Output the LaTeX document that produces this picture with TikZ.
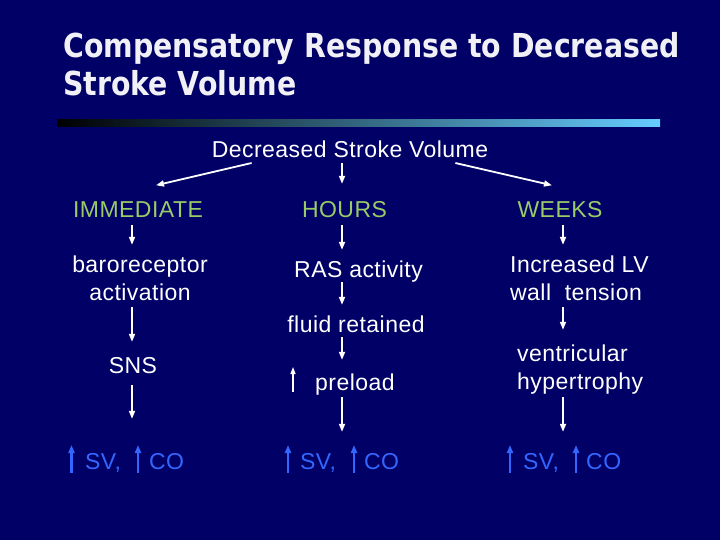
\documentclass[tikz,border=0pt]{standalone}
\usepackage{fontspec}
\setmainfont{Liberation Sans}[LetterSpace=2]
\newfontfamily\titlefont{DejaVu Sans}[FakeStretch=0.86]
\usetikzlibrary{arrows.meta}
\definecolor{bg}{RGB}{0,0,102}
\definecolor{grn}{RGB}{153,204,102}
\definecolor{blu}{RGB}{51,102,255}
\definecolor{barc}{RGB}{102,204,255}
\definecolor{ttl}{RGB}{240,240,246}
\begin{document}
\begin{tikzpicture}[x=1pt,y=-1pt,
  txt/.style={inner sep=0pt, text=white, font=\fontsize{23}{28}\selectfont, text height=16.5pt, text depth=4.8pt},
  lbl/.style={txt, text=grn},
  svtxt/.style={txt, text=blu},
  ttltxt/.style={inner sep=0pt, text=ttl, font=\titlefont\bfseries\fontsize{33}{40}\selectfont},
  arr/.style={draw=white, line width=1.8pt, -{Triangle[length=8pt,width=6pt]}},
  smallarr/.style={draw=white, line width=1.4pt, -{Triangle[length=7pt,width=5pt]}},
  uarr/.style={draw=blu, line width=2.2pt, -{Triangle[length=8pt,width=6pt]}}
]
\fill[bg] (0,0) rectangle (720,540);
\useasboundingbox (0,0) rectangle (720,540);

% title
\node[ttltxt, anchor=base west] (t1) at (63,58) {Compensatory Response to Decreased};
\node[ttltxt, anchor=base west] (t2) at (63,96) {Stroke Volume};
\shade[left color=black, right color=barc] (57,120) rectangle (660,127);

% column coordinates
\coordinate (cL) at (132,0);
\coordinate (cM) at (342,0);
\coordinate (cR) at (563,0);

% nodes
\node[txt, anchor=base] (dsv) at (350,158) {Decreased Stroke Volume};
\node[lbl, anchor=base] (imm) at (138,218) {IMMEDIATE};
\node[lbl, anchor=base] (hrs) at (344.5,218) {HOURS};
\node[lbl, anchor=base] (wks) at (560,218) {WEEKS};

\node[txt, anchor=base] (baro1) at (140,272) {baroreceptor};
\node[txt, anchor=base] (baro2) at (140,300) {activation};
\node[txt, anchor=base] (ras) at (358.5,277) {RAS activity};
\node[txt, anchor=base west] (inc1) at (510,272) {Increased LV};
\node[txt, anchor=base west] (inc2) at (510,300) {wall\ \ tension};

\node[txt, anchor=base] (fluid) at (356,332) {fluid retained};
\node[txt, anchor=base] (sns) at (133,373) {SNS};
\node[txt, anchor=base west] (pre) at (315,390) {preload};
\node[txt, anchor=base west] (vent1) at (517,361) {ventricular};
\node[txt, anchor=base west] (vent2) at (517,389) {hypertrophy};

\node[svtxt, anchor=base west] (svL) at (85,469) {SV,};
\node[svtxt, anchor=base west] (coL) at (149,469) {CO};
\node[svtxt, anchor=base west] (svM) at (300,469) {SV,};
\node[svtxt, anchor=base west] (coM) at (364,469) {CO};
\node[svtxt, anchor=base west] (svR) at (523,469) {SV,};
\node[svtxt, anchor=base west] (coR) at (586,469) {CO};

% top split arrows
\draw[arr] ([xshift=40pt]dsv.south west) -- ([xshift=18pt,yshift=16pt]imm.north);
\draw[arr, shorten <=-0.3pt, shorten >=17.5pt] (dsv.south -| cM) -- (hrs.north -| cM);
\draw[arr] ([xshift=-33pt]dsv.south east) -- ([xshift=-8pt,yshift=16pt]wks.north);

% row 1 -> row 2
\draw[arr, shorten <=2.2pt, shorten >=10.5pt] (imm.south -| cL) -- (baro1.north -| cL);
\draw[arr, shorten <=2.2pt, shorten >=10.5pt] (hrs.south -| cM) -- (ras.north -| cM);
\draw[arr, shorten <=2.2pt, shorten >=10.5pt] (wks.south -| cR) -- (inc1.north -| cR);

% row 2 -> row 3
\draw[arr, shorten <=2.2pt, shorten >=14.5pt] (baro2.south -| cL) -- (sns.north -| cL);
\draw[arr, shorten <=0.2pt, shorten >=10.5pt] (ras.south -| cM) -- (fluid.north -| cM);
\draw[arr, shorten <=2.2pt, shorten >=14.5pt] (inc2.south -| cR) -- (vent1.north -| cR);
\draw[arr, shorten <=0.2pt, shorten >=13.5pt] (fluid.south -| cM) -- (pre.north -| cM);

% increased preload symbol
\draw[smallarr] ([xshift=-22pt,yshift=-2pt]pre.base west) -- ([xshift=-22pt,yshift=23pt]pre.base west);

% row 3 -> bottom
\draw[arr, shorten <=7.2pt, shorten >=33.5pt] (sns.south -| cL) -- (svL.north -| cL);
\draw[arr, shorten <=2.2pt, shorten >=20.5pt] (pre.south -| cM) -- (svM.north -| cM);
\draw[arr, shorten <=3.2pt, shorten >=20.5pt] (vent2.south -| cR) -- (svR.north -| cR);

% blue increase arrows
\draw[uarr] ([xshift=-13.5pt,yshift=-4pt]svL.base west) -- ([xshift=-13.5pt,yshift=24pt]svL.base west);
\draw[uarr] ([xshift=-11pt,yshift=-4pt]coL.base west) -- ([xshift=-11pt,yshift=24pt]coL.base west);
\draw[uarr] ([xshift=-12pt,yshift=-4pt]svM.base west) -- ([xshift=-12pt,yshift=24pt]svM.base west);
\draw[uarr] ([xshift=-10pt,yshift=-4pt]coM.base west) -- ([xshift=-10pt,yshift=24pt]coM.base west);
\draw[uarr] ([xshift=-13pt,yshift=-4pt]svR.base west) -- ([xshift=-13pt,yshift=24pt]svR.base west);
\draw[uarr] ([xshift=-10pt,yshift=-4pt]coR.base west) -- ([xshift=-10pt,yshift=24pt]coR.base west);
\end{tikzpicture}
\end{document}
